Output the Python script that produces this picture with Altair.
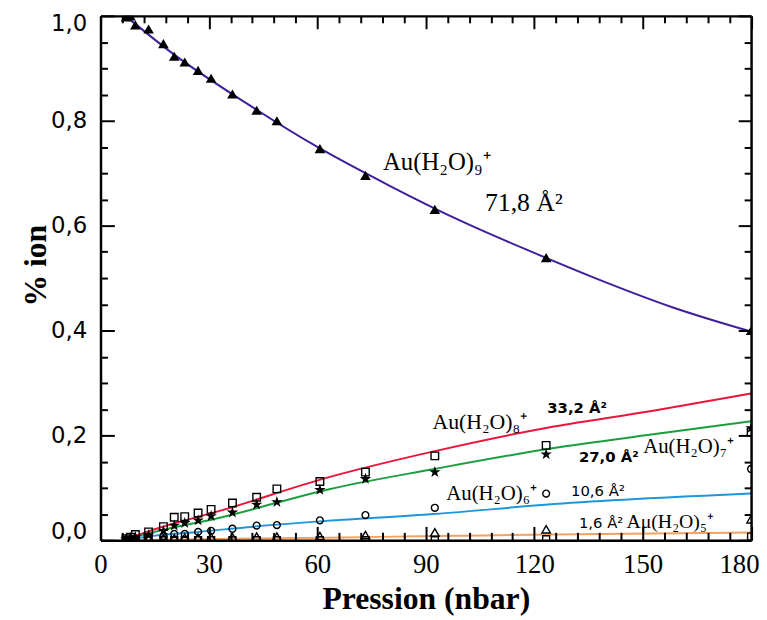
import altair as alt
import pandas as pd

# ---------------- data ----------------
pression = [7.06, 8.27, 9.64, 13.3, 17.4, 20.4, 23.3, 27.0, 30.6, 36.5, 43.2, 48.8, 60.7, 73.3, 92.5, 123.3, 180.0]
au9 = [0.998, 1.000, 0.983, 0.975, 0.947, 0.923, 0.912, 0.896, 0.881, 0.851, 0.820, 0.800, 0.747, 0.696, 0.631, 0.539, 0.400]
au8 = [0.003, 0.006, 0.011, 0.016, 0.026, 0.044, 0.045, 0.052, 0.059, 0.071, 0.082, 0.098, 0.112, 0.130, 0.161, 0.181, 0.206]
au7 = [0.002, 0.004, 0.006, 0.010, 0.018, 0.028, 0.033, 0.038, 0.046, 0.053, 0.068, 0.073, 0.096, 0.117, 0.130, 0.164, 0.214]
au6 = [0.001, 0.002, 0.003, 0.004, 0.008, 0.012, 0.012, 0.016, 0.018, 0.022, 0.028, 0.029, 0.038, 0.048, 0.062, 0.089, 0.136]
au5 = [0.000, 0.000, 0.001, 0.003, 0.004, 0.004, 0.005, 0.005, 0.006, 0.006, 0.007, 0.007, 0.008, 0.010, 0.015, 0.021, 0.040]
au4 = [0.000, 0.000, 0.000, 0.000, 0.000, 0.000, 0.000, 0.000, 0.000, 0.000, 0.000, 0.000, 0.000, 0.000, 0.000, 0.002, 0.007]

# fitted curves
fit9_x = [6.9, 20, 40, 60, 80, 100, 120, 136.5, 158.4, 180]
fit9_y = [1.000, 0.928, 0.835, 0.750, 0.676, 0.608, 0.548, 0.501, 0.444, 0.398]
fit8_x = [6.4, 15, 33, 63, 92.5, 125.5, 152.9, 180]
fit8_y = [0.000, 0.021, 0.056, 0.120, 0.170, 0.217, 0.247, 0.280]
fit7_x = [6.4, 15, 33, 63, 92.4, 125.5, 152.9, 180]
fit7_y = [0.000, 0.016, 0.043, 0.097, 0.136, 0.176, 0.202, 0.227]
fit6_x = [6.4, 17.8, 27, 40.6, 62.5, 92.4, 125.5, 180]
fit6_y = [0.000, 0.011, 0.016, 0.025, 0.037, 0.050, 0.069, 0.089]
fit5_x = [6.4, 62.5, 92.4, 125.5, 180]
fit5_y = [0.000, 0.005, 0.008, 0.011, 0.015]

x_major = [0, 30, 60, 90, 120, 150, 180]
x_minor = [v for v in range(6, 180, 6) if v % 30 != 0]
y_major = [0.0, 0.2, 0.4, 0.6, 0.8, 1.0]
y_minor = [0.05, 0.1, 0.15, 0.25, 0.3, 0.35, 0.45, 0.5, 0.55, 0.65, 0.7, 0.75, 0.85, 0.9, 0.95]

# ---------------- tables ----------------
series = {"au9": au9, "au8": au8, "au7": au7, "au6": au6, "au5": au5, "au4": au4}
pts = pd.DataFrame([
    {"p": p, "v": v, "s": name}
    for name, vals in series.items() for p, v in zip(pression, vals)
])
fits = pd.DataFrame(
    [{"p": p, "v": v, "s": "au9"} for p, v in zip(fit9_x, fit9_y)]
    + [{"p": p, "v": v, "s": "au8"} for p, v in zip(fit8_x, fit8_y)]
    + [{"p": p, "v": v, "s": "au7"} for p, v in zip(fit7_x, fit7_y)]
    + [{"p": p, "v": v, "s": "au6"} for p, v in zip(fit6_x, fit6_y)]
    + [{"p": p, "v": v, "s": "au5"} for p, v in zip(fit5_x, fit5_y)]
)
empty = pd.DataFrame({"p": [0.0], "v": [0.0]})

W, H = 657.5, 530
xs = alt.Scale(domain=[0, 180], nice=False, zero=False)
ys = alt.Scale(domain=[0, 1], nice=False, zero=False)

line_colors = {"au9": "#3f1f9c", "au8": "#e8173a", "au7": "#1c9e3e",
               "au6": "#1e96dc", "au5": "#f2a160"}

layers = []
# fitted lines
for name, col in line_colors.items():
    layers.append(
        alt.Chart(fits).transform_filter(alt.datum.s == name)
        .mark_line(color=col, strokeWidth=2, interpolate="monotone", clip=True)
        .encode(x=alt.X("p:Q", scale=xs, axis=None), y=alt.Y("v:Q", scale=ys, axis=None))
    )

STAR = ("M0,-1L0.2245,-0.309L0.951,-0.309L0.3633,0.118L0.5878,0.809L0,0.382"
        "L-0.5878,0.809L-0.3633,0.118L-0.951,-0.309L-0.2245,-0.309Z")
marker_styles = {
    "au4": dict(shape="square", size=50, filled=False, color="black", strokeWidth=1.4),
    "au5": dict(shape="triangle-up", size=75, filled=False, color="black", strokeWidth=1.4),
    "au6": dict(shape="circle", size=48, filled=False, color="black", strokeWidth=1.4),
    "au7": dict(shape=STAR, size=150, filled=True, color="black"),
    "au8": dict(shape="square", size=58, filled=False, color="black", strokeWidth=1.4),
    "au9": dict(shape="triangle-up", size=115, filled=True, color="black"),
}
for name, st in marker_styles.items():
    layers.append(
        alt.Chart(pts).transform_filter(alt.datum.s == name)
        .mark_point(clip=True, opacity=1, **st)
        .encode(x=alt.X("p:Q", scale=xs, axis=None), y=alt.Y("v:Q", scale=ys, axis=None))
    )

# ---------------- axes ----------------
def axis_layer(xaxis, yaxis):
    return alt.Chart(empty).mark_point(opacity=0).encode(
        x=alt.X("p:Q", scale=xs, axis=xaxis),
        y=alt.Y("v:Q", scale=ys, axis=yaxis),
    )

label_x = alt.Axis(
    orient="bottom", values=x_major, ticks=False, grid=False, domain=True,
    domainColor="black", domainWidth=2.5, zindex=1,
    labelFont="Liberation Serif", labelFontSize=27, labelColor="black",
    labelPadding=12, labelOverlap=False, labelFlush=False,
    labelAlign={"condition": {"test": "datum.value >= 180", "value": "right"}, "value": "center"},
    labelOffset={"condition": {"test": "datum.value >= 180", "value": 8}, "value": 0},
    title="Pression (nbar)", titleFont="Liberation Serif", titleFontSize=32,
    titleFontWeight="bold", titleColor="black", titleX=328.75, titleY=69,
    titleAlign="center", titleBaseline="alphabetic",
)
label_y = alt.Axis(
    orient="left", values=y_major, ticks=False, grid=False, domain=True,
    domainColor="black", domainWidth=2.5, zindex=1,
    labelExpr="replace(format(datum.value, '.1f'), '.', ',')",
    labelFont="DejaVu Sans", labelFontSize=23, labelColor="black",
    labelPadding=14, labelOverlap=False, labelFlush=True, labelFlushOffset=3,
    title="% ion", titleFont="Liberation Serif", titleFontSize=32,
    titleFontWeight="bold", titleColor="black", titleAngle=270,
    titleX=-56, titleY=252, titleAlign="center", titleBaseline="alphabetic",
)
layers.append(axis_layer(label_x, label_y))

def tick_axis(orient, values, size, domain):
    return alt.Axis(
        orient=orient, values=values, labels=False, grid=False, title="",
        ticks=True, tickSize={"expr": str(-size)}, tickColor="black", tickWidth=2,
        domain=domain, domainColor="black", domainWidth=2.5, zindex=1,
    )

layers.append(axis_layer(tick_axis("bottom", x_major, 14, False), tick_axis("left", y_major, 14, False)))
layers.append(axis_layer(tick_axis("bottom", x_minor, 8, False), tick_axis("left", y_minor, 7, False)))
layers.append(axis_layer(tick_axis("top", x_major, 13, True), tick_axis("right", y_major, 13, True)))
layers.append(axis_layer(tick_axis("top", x_minor, 7, False), tick_axis("right", y_minor, 7, False)))

# ---------------- annotations (pixel positions inside the plot) ----------------
def note(text, x, y, size, font="Liberation Serif", weight="normal"):
    return alt.Chart(empty).mark_text(
        text=text, align="left", baseline="alphabetic", font=font,
        fontSize=size, fontWeight=weight, color="black",
    ).encode(x=alt.value(x), y=alt.value(y))

layers += [
    note("Au(H₂O)₉⁺", 285.5, 155.3, 25),
    note("71,8 Å²", 388.5, 197.3, 26),
    note("Au(H₂O)₈⁺", 335.5, 417.3, 22),
    note("33,2 Å²", 451.5, 401.3, 15, font="DejaVu Sans", weight=600),
    note("Au(H₂O)₇⁺", 548.5, 441.3, 21),
    note("27,0 Å²", 483.5, 451.3, 15, font="DejaVu Sans", weight=600),
    note("Au(H₂O)₆⁺", 349.5, 489.3, 21),
    note("10,6 Å²", 475.5, 485.3, 15, font="DejaVu Sans"),
    note("1,6 Å²", 483.5, 517.3, 15, font="DejaVu Sans"),
    note("Aμ(H₂O)₅⁺", 531.5, 517.3, 20),
]

chart = (
    alt.layer(*layers)
    .resolve_axis(x="independent", y="independent")
    .resolve_scale(x="shared", y="shared")
    .properties(
        width=W, height=H,
        autosize=alt.AutoSizeParams(type="none"),
        padding={"left": 93.5, "top": 4.7, "right": 8, "bottom": 77},
    )
    .configure_view(stroke=None)
    .configure(background="white")
)

chart.save("out.html", embed_options={"renderer": "svg", "actions": False})
